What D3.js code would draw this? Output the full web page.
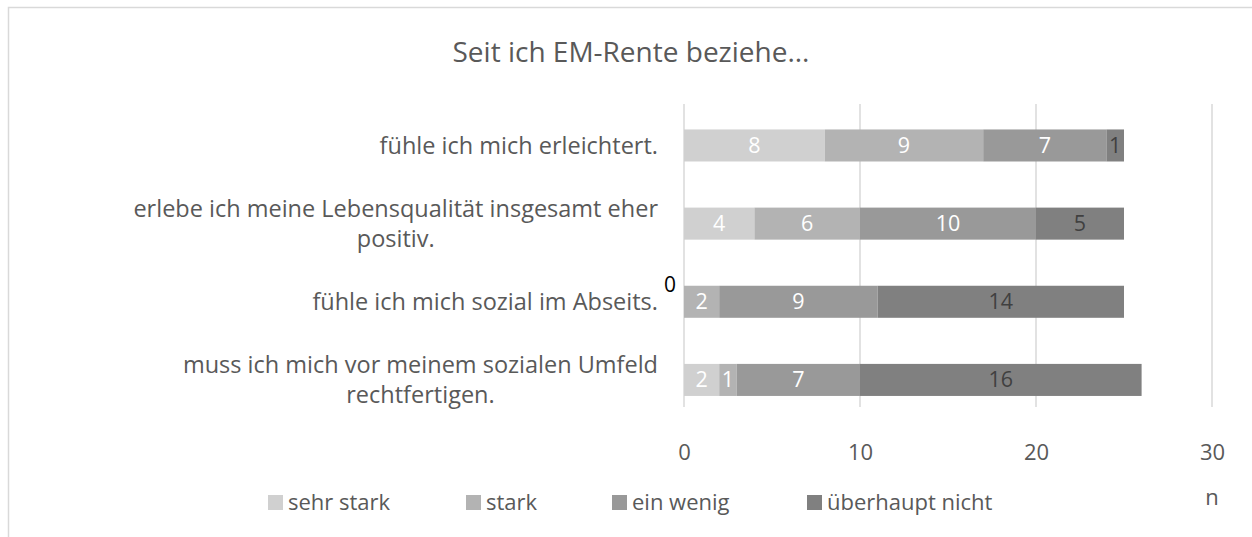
<!DOCTYPE html>
<html>
<head>
<meta charset="utf-8">
<script src="https://cdn.jsdelivr.net/npm/d3@7"></script>
<style>
  html, body { margin: 0; padding: 0; background: #fff; }
  svg { display: block; font-family: "Open Sans", "Lato", sans-serif; }
</style>
</head>
<body>
<svg id="chart" width="1252" height="537"></svg>
<script>
// Statements (y categories), each split into its displayed lines
const categories = [
  "fühle ich mich erleichtert.",
  "erlebe ich meine Lebensqualität insgesamt eher positiv.",
  "fühle ich mich sozial im Abseits.",
  "muss ich mich vor meinem sozialen Umfeld rechtfertigen."
];
const categoryLines = [
  ["fühle ich mich erleichtert."],
  ["erlebe ich meine Lebensqualität insgesamt eher", "positiv."],
  ["fühle ich mich sozial im Abseits."],
  ["muss ich mich vor meinem sozialen Umfeld", "rechtfertigen."]
];

// Answer levels and counts per statement
const seriesNames = ["sehr stark", "stark", "ein wenig", "überhaupt nicht"];
const sehrStark       = [8, 4, 0, 2];
const stark           = [9, 6, 2, 1];
const einWenig        = [7, 10, 9, 7];
const ueberhauptNicht = [1, 5, 14, 16];

const xTicks = [0, 10, 20, 30];
const titleText = "Seit ich EM-Rente beziehe...";
const axisTitle = "n";

const colors = ["#d0d0d0", "#b3b3b3", "#999999", "#808080"];
const labelColors = ["#ffffff", "#ffffff", "#ffffff", "#404040"];
const textGray = "#595959";

const rows = categories.map((c, i) => ({
  category: c,
  "sehr stark": sehrStark[i],
  "stark": stark[i],
  "ein wenig": einWenig[i],
  "überhaupt nicht": ueberhauptNicht[i]
}));

const stacked = d3.stack().keys(seriesNames)(rows);

const svg = d3.select("#chart");

// chart frame
svg.append("rect")
  .attr("x", 8.5).attr("y", 7.5)
  .attr("width", 1300).attr("height", 600)
  .attr("fill", "none").attr("stroke", "#d9d9d9").attr("stroke-width", 1.5);

const x = d3.scaleLinear().domain([0, 30]).range([684, 1212]);
const y = d3.scaleBand().domain(categories).range([106.4, 419])
  .paddingInner(0.59).paddingOuter(0.295);

// title
svg.append("text")
  .attr("x", 631).attr("y", 52).attr("dy", "0.35em")
  .attr("text-anchor", "middle")
  .attr("fill", textGray)
  .attr("font-size", 28)
  .text(titleText);

// vertical gridlines
svg.append("g").selectAll("line")
  .data(xTicks).join("line")
  .attr("x1", d => x(d)).attr("x2", d => x(d))
  .attr("y1", 104).attr("y2", 407)
  .attr("stroke", "#d9d9d9").attr("stroke-width", 1.5);

// x axis tick labels
const xAxis = d3.axisBottom(x).tickValues(xTicks).tickSize(0).tickPadding(0);
const gx = svg.append("g").attr("transform", "translate(0,452)").call(xAxis);
gx.select(".domain").remove();
gx.selectAll("text")
  .attr("dy", "0.35em")
  .attr("fill", textGray)
  .attr("font-size", 22)
  .attr("font-family", "Open Sans, sans-serif");

// axis title
svg.append("text")
  .attr("x", x(30)).attr("y", 497).attr("dy", "0.35em")
  .attr("text-anchor", "middle")
  .attr("fill", textGray)
  .attr("font-size", 22)
  .text(axisTitle);

// category labels
const catG = svg.append("g");
categoryLines.forEach((lines, i) => {
  const cy = y(categories[i]) + y.bandwidth() / 2;
  const lh = 30;
  const t = catG.append("text")
    .attr("fill", textGray)
    .attr("font-size", 23.5)
    .attr("text-anchor", "middle");
  const tspans = lines.map((ln, j) =>
    t.append("tspan")
      .attr("y", cy + (j - (lines.length - 1) / 2) * lh)
      .attr("dy", "0.35em")
      .text(ln));
  // right-align the block, center lines within it
  const w = d3.max(tspans, s => s.node().getComputedTextLength());
  tspans.forEach(s => s.attr("x", 658 - w / 2));
});

// stacked bars
const layers = svg.append("g").selectAll("g")
  .data(stacked).join("g")
  .attr("fill", (d, i) => colors[i]);

layers.selectAll("rect")
  .data(d => d.map(v => ({ v, cat: v.data.category })))
  .join("rect")
  .attr("x", d => x(d.v[0]))
  .attr("width", d => x(d.v[1]) - x(d.v[0]))
  .attr("y", d => y(d.cat))
  .attr("height", y.bandwidth());

// value labels
stacked.forEach((layer, li) => {
  layer.forEach(v => {
    const val = v[1] - v[0];
    const cy = y(v.data.category) + y.bandwidth() / 2;
    if (val > 0) {
      svg.append("text")
        .attr("x", (x(v[0]) + x(v[1])) / 2)
        .attr("y", cy).attr("dy", "0.35em")
        .attr("text-anchor", "middle")
        .attr("fill", labelColors[li])
        .attr("font-size", 21.5)
        .text(val);
    } else {
      // zero-width segment: label sits just above-left of the bar start
      svg.append("text")
        .attr("x", x(v[0]) - 14)
        .attr("y", cy - 17).attr("dy", "0.35em")
        .attr("text-anchor", "middle")
        .attr("fill", "#000000")
        .attr("font-size", 21)
        .text(val);
    }
  });
});

// legend
const legendX = [268, 466, 612, 807];
const legend = svg.append("g");
seriesNames.forEach((name, i) => {
  legend.append("rect")
    .attr("x", legendX[i]).attr("y", 495)
    .attr("width", 15).attr("height", 15)
    .attr("fill", colors[i]);
  legend.append("text")
    .attr("x", legendX[i] + 20).attr("y", 502).attr("dy", "0.35em")
    .attr("fill", textGray)
    .attr("font-size", 22)
    .text(name);
});
</script>
</body>
</html>
